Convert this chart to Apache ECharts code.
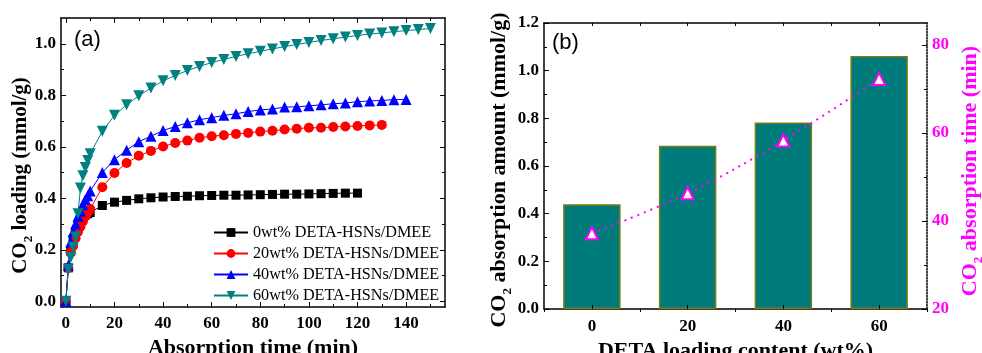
<!DOCTYPE html>
<html><head><meta charset="utf-8">
<script src="https://cdn.jsdelivr.net/npm/echarts@6/dist/echarts.min.js"></script>
<style>html,body{margin:0;padding:0;background:#fff}#c{width:982px;height:353px}</style>
</head><body><div id="c"></div>
<script>
// ---- data (panel a) ----
const time150 = [0,1,2,3,4,5,6,7,8,9,10,15,20,25,30,35,40,45,50,55,60,65,70,75,80,85,90,95,100,105,110,115,120,125,130,135,140,145,150];
const load0  = [0,0.13,0.195,0.24,0.27,0.295,0.315,0.325,0.335,0.34,0.345,0.372,0.385,0.392,0.398,0.402,0.405,0.407,0.408,0.41,0.411,0.412,0.412,0.413,0.414,0.415,0.416,0.416,0.417,0.418,0.419,0.42,0.42];
const load20 = [0,0.13,0.19,0.215,0.245,0.27,0.29,0.31,0.33,0.345,0.358,0.443,0.498,0.537,0.565,0.584,0.601,0.615,0.624,0.635,0.641,0.645,0.65,0.654,0.659,0.662,0.667,0.67,0.674,0.674,0.677,0.679,0.681,0.683,0.685];
const load40 = [0,0.14,0.23,0.27,0.30,0.33,0.35,0.375,0.395,0.41,0.428,0.5,0.55,0.587,0.62,0.641,0.663,0.679,0.693,0.705,0.713,0.722,0.728,0.737,0.743,0.747,0.754,0.755,0.759,0.763,0.767,0.77,0.775,0.778,0.78,0.783,0.784];
const load60 = [0,0.125,0.17,0.21,0.25,0.34,0.44,0.488,0.52,0.547,0.573,0.66,0.722,0.763,0.798,0.828,0.856,0.877,0.896,0.912,0.927,0.939,0.951,0.961,0.971,0.98,0.989,0.997,1.005,1.013,1.019,1.026,1.032,1.038,1.042,1.047,1.051,1.055,1.059];
const seriesNames = ['0wt% DETA-HSNs/DMEE','20wt% DETA-HSNs/DMEE','40wt% DETA-HSNs/DMEE','60wt% DETA-HSNs/DMEE'];
const xMajorA = [0,20,40,60,80,100,120,140];
const xMinorA = [10,30,50,70,90,110,130,150];
const yMajorA = [0,0.2,0.4,0.6,0.8,1.0];
const yMinorA = [0.1,0.3,0.5,0.7,0.9];
// ---- data (panel b) ----
const loadingCats = ['0','20','40','60'];
const absAmount = [0.44,0.685,0.782,1.062];
const absTime = [37.2,46.3,58.3,72.3];
const rightMajor = [20,40,60,80];
const rightMinor = [30,50,70];
const catCenters = [0,1,2,3];
const catAllTicks = [0,0.5,1,1.5,2,2.5,3];

function pairs(vals){ return vals.map((v,i)=>[time150[i],v]); }

const FF = 'Liberation Serif';
function tl(color, fmt){
  return {
    formatter: v => '{t|' + (fmt ? fmt(v) : v) + '}',
    rich:{t:{fontFamily:FF, fontWeight:'bold', fontSize:17, color:color}}
  };
}
const blk = {color:'#000', width:1.5};
function rich(size, color){
  return {
    a:{fontFamily:FF, fontWeight:'bold', fontSize:size, color:color},
    s:{fontFamily:FF, fontWeight:'bold', fontSize:13, color:color, padding:[16,0,0,0]}
  };
}

const chart = echarts.init(document.getElementById('c'), null, {renderer:'canvas'});
const A = {min:-2, max:156};
const YA = {min:-0.022, max:1.1};
const C = {min:-0.5, max:3.5};
const f1 = v => Number(v).toFixed(1);
const noLbl = {axisLabel:{show:false}, splitLine:{show:false}};
const noLine = {show:false, onZero:false};
const option = {
  animation:false,
  backgroundColor:'#fff',
  grid:[
    {left:61, top:18, width:384, height:289, containLabel:false, outerBoundsMode:'none'},
    {left:544, top:23, width:383, height:286, containLabel:false, outerBoundsMode:'none'}
  ],
  xAxis:[
    {gridIndex:0, type:'value', ...A, position:'bottom',
     axisLine:{show:true, onZero:false, lineStyle:blk},
     axisTick:{show:true, inside:true, length:5, customValues:xMajorA, lineStyle:{color:'#000'}},
     axisLabel:{...tl('#000'), margin:8, customValues:xMajorA},
     splitLine:{show:false},
     name:'Absorption time (min)', nameLocation:'middle', nameGap:27,
     nameTextStyle:{fontFamily:FF, fontWeight:'bold', fontSize:22, color:'#000'}},
    {gridIndex:0, type:'value', ...A, position:'bottom',
     axisLine:noLine, axisTick:{show:true, inside:true, length:3, customValues:xMinorA, lineStyle:{color:'#000'}}, ...noLbl},
    {gridIndex:0, type:'value', ...A, position:'top',
     axisLine:{show:true, onZero:false, lineStyle:blk},
     axisTick:{show:true, inside:true, length:5, customValues:xMajorA, lineStyle:{color:'#000'}}, ...noLbl},
    {gridIndex:0, type:'value', ...A, position:'top',
     axisLine:noLine, axisTick:{show:true, inside:true, length:3, customValues:xMinorA, lineStyle:{color:'#000'}}, ...noLbl},
    {gridIndex:1, type:'category', data:loadingCats, position:'bottom',
     axisLine:{show:true, onZero:false, lineStyle:blk},
     axisTick:{show:true, inside:false, length:3, lineStyle:{color:'#000'}},
     axisLabel:{...tl('#000'), margin:9},
     name:'DETA loading content (wt%)', nameLocation:'middle', nameGap:25,
     nameTextStyle:{fontFamily:FF, fontWeight:'bold', fontSize:22, color:'#000'}},
    {gridIndex:1, type:'category', data:loadingCats, position:'top',
     axisLine:{show:true, onZero:false, lineStyle:blk}, axisTick:{show:false}, axisLabel:{show:false}},
    {gridIndex:1, type:'value', ...C, position:'top', z:10,
     axisLine:noLine, axisTick:{show:true, inside:true, length:3, customValues:catAllTicks, lineStyle:{color:'#000'}}, ...noLbl},
    {gridIndex:1, type:'value', ...C, position:'bottom', z:10,
     axisLine:noLine, axisTick:{show:true, inside:true, length:4, customValues:catCenters, lineStyle:{color:'#000'}}, ...noLbl}
  ],
  yAxis:[
    {gridIndex:0, type:'value', ...YA, position:'left',
     axisLine:{show:true, onZero:false, lineStyle:blk},
     axisTick:{show:true, inside:true, length:5, customValues:yMajorA, lineStyle:{color:'#000'}},
     axisLabel:{...tl('#000', f1), margin:5, customValues:yMajorA},
     splitLine:{show:false},
     name:'{a|CO}{s|2}{a| loading (mmol/g)}', nameLocation:'middle', nameGap:26, nameRotate:90, nameMoveOverlap:false,
     nameTextStyle:{rich:rich(21,'#000'), padding:[0,26,0,0]}},
    {gridIndex:0, type:'value', ...YA, position:'left',
     axisLine:noLine, axisTick:{show:true, inside:true, length:3, customValues:yMinorA, lineStyle:{color:'#000'}}, ...noLbl},
    {gridIndex:0, type:'value', ...YA, position:'right',
     axisLine:{show:true, onZero:false, lineStyle:blk},
     axisTick:{show:true, inside:true, length:5, customValues:yMajorA, lineStyle:{color:'#000'}}, ...noLbl},
    {gridIndex:0, type:'value', ...YA, position:'right',
     axisLine:noLine, axisTick:{show:true, inside:true, length:3, customValues:yMinorA, lineStyle:{color:'#000'}}, ...noLbl},
    {gridIndex:1, type:'value', min:0, max:1.2, interval:0.2, position:'left',
     axisLine:{show:true, onZero:false, lineStyle:blk},
     axisTick:{show:true, inside:true, length:5, lineStyle:{color:'#000'}},
     minorTick:{show:true, splitNumber:2, length:3, lineStyle:{color:'#000'}},
     axisLabel:{...tl('#000', f1), margin:5},
     splitLine:{show:false},
     name:'{a|CO}{s|2}{a| absorption amount (mmol/g)}', nameLocation:'middle', nameGap:22, nameRotate:90,
     nameTextStyle:{rich:rich(22,'#000'), padding:[0,8,0,0]}},
    {gridIndex:1, type:'value', min:20, max:85, position:'right',
     axisLine:{show:true, onZero:false, lineStyle:{color:'#000', width:1.5, type:'dotted'}},
     axisTick:{show:true, inside:true, length:5, customValues:rightMajor, lineStyle:{color:'#000'}},
     axisLabel:{...tl('#FF00FF'), margin:5, customValues:rightMajor},
     splitLine:{show:false},
     name:'{a|CO}{s|2}{a| absorption time (min)}', nameLocation:'middle', nameGap:29, nameRotate:90,
     nameTextStyle:{rich:rich(22,'#FF00FF'), padding:[0,10,0,0]}},
    {gridIndex:1, type:'value', min:20, max:85, position:'right',
     axisLine:noLine, axisTick:{show:true, inside:true, length:3, customValues:rightMinor, lineStyle:{color:'#000'}}, ...noLbl}
  ],
  legend:{
    show:true, orient:'vertical', left:208, top:219, itemWidth:34, itemHeight:11, itemGap:4,
    data:seriesNames,
    textStyle:{fontFamily:FF, fontSize:16.2, color:'#000', lineHeight:17, padding:[0,0,0,0]}
  },
  graphic:[
    {type:'text', left:74, top:29, style:{text:'(a)', fontFamily:'Liberation Sans', fontSize:22, fill:'#000'}},
    {type:'text', left:552, top:32, style:{text:'(b)', fontFamily:'Liberation Sans', fontSize:22, fill:'#000'}}
  ],
  series:[
    {name:seriesNames[0], type:'line', xAxisIndex:0, yAxisIndex:0, data:pairs(load0),
     symbol:'rect', symbolSize:9, lineStyle:{color:'#000', width:1}, itemStyle:{color:'#000'}},
    {name:seriesNames[1], type:'line', xAxisIndex:0, yAxisIndex:0, data:pairs(load20),
     symbol:'circle', symbolSize:10, lineStyle:{color:'#FF0000', width:1}, itemStyle:{color:'#FF0000'}},
    {name:seriesNames[2], type:'line', xAxisIndex:0, yAxisIndex:0, data:pairs(load40),
     symbol:'triangle', symbolSize:11, lineStyle:{color:'#0000FF', width:1}, itemStyle:{color:'#0000FF'}},
    {name:seriesNames[3], type:'line', xAxisIndex:0, yAxisIndex:0, data:pairs(load60),
     symbol:'triangle', symbolRotate:180, symbolSize:11, lineStyle:{color:'#008080', width:1}, itemStyle:{color:'#008080'}},
    {type:'bar', xAxisIndex:4, yAxisIndex:4, data:absAmount, barWidth:'60%',
     itemStyle:{color:'#007B7B', borderColor:'#7A7A10', borderWidth:1.5}},
    {type:'line', xAxisIndex:4, yAxisIndex:5, data:absTime, smooth:0.4,
     symbol:'triangle', symbolSize:12, z:5,
     lineStyle:{color:'#FF00FF', width:2, type:[2,5]},
     itemStyle:{color:'#fff', borderColor:'#FF00FF', borderWidth:2}}
  ]
};
chart.setOption(option);
</script></body></html>
